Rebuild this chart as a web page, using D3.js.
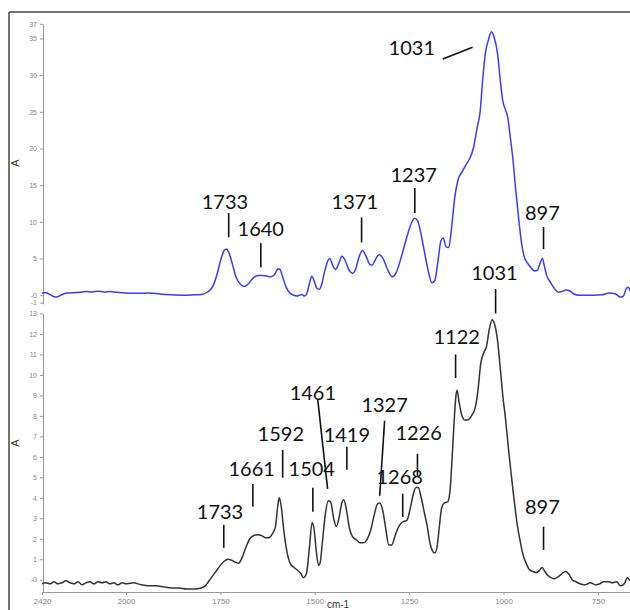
<!DOCTYPE html>
<html>
<head>
<meta charset="utf-8">
<script src="https://cdn.jsdelivr.net/npm/d3@7"></script>
<style>
  body { margin: 0; background: #fff; }
  svg { display: block; }
  .tick text { fill: #888; font-family: "Liberation Sans", Arial, sans-serif; }
  .note { font-family: Lato, "Open Sans", sans-serif; font-size: 20px; fill: #111; }
</style>
</head>
<body>
<svg id="chart" width="630" height="610"></svg>
<script>
// wavenumber (cm-1) and absorbance
const wnTop = [2420,2400,2380,2360,2345,2330,2310,2290,2260,2230,2200,2170,2140,2110,2080,2050,2020,2000,1970,1940,1910,1880,1850,1820,1800,1785,1770,1758,1748,1740,1734,1726,1718,1708,1697,1686,1675,1662,1650,1638,1625,1617,1607,1597,1592,1584,1575,1566,1556,1548,1540,1534,1528,1522,1514,1508,1502,1495,1489,1482,1474,1466,1460,1452,1445,1436,1428,1420,1410,1400,1392,1384,1374,1364,1354,1348,1340,1330,1320,1308,1295,1285,1272,1258,1245,1236,1228,1218,1208,1198,1190,1182,1174,1166,1160,1152,1145,1138,1130,1120,1110,1098,1090,1080,1070,1062,1055,1048,1040,1032,1024,1016,1008,1002,995,989,982,975,968,960,952,945,937,928,918,910,903,897,892,885,875,865,855,845,835,825,815,800,780,760,740,720,705,690,682,675,670,665];
const absTop = [0.3,0.35,0.1,-0.2,-0.25,-0.05,0.2,0.3,0.35,0.4,0.5,0.45,0.55,0.45,0.5,0.4,0.35,0.3,0.25,0.3,0.15,0.05,0.0,0.05,0.1,0.4,1.2,3.0,5.0,6.1,6.3,5.6,4.2,2.4,1.5,1.2,1.6,2.4,2.7,2.7,2.6,2.5,2.8,3.6,3.5,2.3,1.0,0.3,0.0,-0.1,0.0,0.1,-0.1,0.1,1.6,2.6,2.0,1.0,0.8,1.4,3.2,4.6,5.0,4.0,3.5,4.4,5.3,4.8,3.5,3.0,3.5,5.0,6.1,5.3,4.2,4.1,4.8,5.5,5.1,3.6,2.5,3.0,5.0,7.6,9.7,10.5,10.2,8.2,5.5,3.0,1.7,2.0,4.5,7.4,7.8,6.6,6.5,9.0,13.0,15.8,16.8,17.9,18.6,20.0,22.8,25.0,29.5,33.0,34.8,35.9,35.0,33.0,29.0,26.5,25.3,24.3,21.5,18.5,14.5,10.5,7.0,5.2,4.4,3.8,3.3,3.4,4.4,5.0,4.0,2.6,1.7,0.9,0.4,0.5,0.7,0.6,0.2,0.0,0.0,0.0,0.05,0.3,0.2,-0.25,-0.1,0.9,1.1,0.6];

const wnBot = [2420,2400,2380,2360,2340,2320,2300,2280,2260,2240,2220,2200,2180,2160,2140,2120,2100,2080,2060,2040,2020,2000,1980,1960,1940,1920,1900,1880,1860,1840,1820,1800,1790,1780,1770,1760,1750,1740,1730,1720,1710,1702,1692,1682,1672,1662,1651,1640,1630,1622,1612,1604,1598,1594,1589,1582,1574,1565,1555,1545,1537,1530,1522,1514,1507,1502,1496,1490,1486,1480,1472,1464,1458,1450,1443,1436,1429,1423,1416,1408,1400,1390,1380,1372,1362,1352,1342,1334,1328,1320,1312,1304,1296,1288,1280,1272,1264,1256,1248,1240,1232,1226,1218,1210,1202,1195,1188,1182,1176,1170,1164,1157,1148,1142,1136,1130,1126,1123,1118,1110,1102,1095,1085,1075,1068,1060,1052,1045,1038,1030,1024,1016,1008,1002,995,988,980,972,963,955,948,940,932,922,913,905,898,892,885,875,865,855,845,835,828,818,808,798,785,770,755,745,735,722,712,700,690,680,672,665];
const absBot = [-0.2,-0.15,-0.2,-0.1,-0.2,-0.15,-0.05,-0.15,-0.2,-0.1,-0.25,-0.15,-0.1,-0.2,-0.1,-0.15,-0.1,-0.2,-0.15,-0.25,-0.15,-0.2,-0.15,-0.25,-0.3,-0.3,-0.35,-0.4,-0.4,-0.45,-0.45,-0.4,-0.3,-0.05,0.2,0.45,0.7,0.9,1.0,0.95,0.85,0.8,1.1,1.6,2.0,2.15,2.2,2.15,2.05,2.05,2.25,2.6,3.6,4.0,3.6,2.4,1.4,0.8,0.6,0.45,0.3,0.1,0.3,1.6,2.8,2.5,1.4,0.7,0.8,1.8,3.2,3.85,3.8,3.0,2.6,3.0,3.7,3.9,3.4,2.5,2.1,1.95,1.8,1.8,1.95,2.4,3.2,3.7,3.75,3.4,2.5,1.7,1.7,2.1,2.5,2.75,2.85,2.9,3.4,4.1,4.5,4.5,4.0,3.3,2.6,1.8,1.4,1.3,1.6,2.6,3.5,3.75,3.8,4.3,6.0,8.0,9.0,9.25,8.7,8.0,7.8,7.8,8.0,8.4,9.2,10.6,11.1,11.4,12.2,12.7,12.5,11.7,10.2,9.0,7.9,6.6,5.2,3.9,2.6,1.8,1.2,0.8,0.5,0.4,0.35,0.45,0.6,0.45,0.25,0.1,0.05,0.15,0.3,0.4,0.3,0.0,-0.1,-0.2,-0.25,-0.15,-0.25,-0.2,-0.1,-0.1,-0.15,-0.1,-0.3,-0.2,0.1,-0.05];

const xTicks = [2420, 2000, 1750, 1500, 1250, 1000, 750];
const yTicksTop = [-1, 0, 5, 10, 15, 20, 25, 30, 35, 37];
const yTicksBot = [0, 1, 2, 3, 4, 5, 6, 7, 8, 9, 10, 11, 12, 13];

// peak labels: text position and the marker line, in (cm-1, A)
const notesTop = [
  { t: "1733", tx: 1738, ty: 12.8, x1: 1728, y1: 11.2, x2: 1728, y2: 7.9 },
  { t: "1640", tx: 1643, ty: 9.1, x1: 1643, y1: 7.1, x2: 1643, y2: 3.8 },
  { t: "1371", tx: 1394, ty: 12.8, x1: 1376, y1: 10.6, x2: 1376, y2: 7.2 },
  { t: "1237", tx: 1238, ty: 16.4, x1: 1235, y1: 14.6, x2: 1235, y2: 11.2 },
  { t: "1031", tx: 1243, ty: 33.7, x1: 1161, y1: 32.2, x2: 1082, y2: 33.8 },
  { t: "897", tx: 897, ty: 11.3, x1: 894, y1: 9.3, x2: 894, y2: 6.3 }
];
const notesBot = [
  { t: "1031", tx: 1024, ty: 15.0, x1: 1021, y1: 14.2, x2: 1021, y2: 13.0 },
  { t: "1122", tx: 1124, ty: 11.85, x1: 1127, y1: 11.0, x2: 1127, y2: 9.85 },
  { t: "897", tx: 897, ty: 3.56, x1: 894, y1: 2.59, x2: 894, y2: 1.46 },
  { t: "1226", tx: 1225, ty: 7.17, x1: 1228, y1: 6.15, x2: 1228, y2: 5.02 },
  { t: "1268", tx: 1275, ty: 5.02, x1: 1267, y1: 4.2, x2: 1267, y2: 3.07 },
  { t: "1327", tx: 1315, ty: 8.54, x1: 1315, y1: 7.76, x2: 1328, y2: 4.1 },
  { t: "1419", tx: 1415, ty: 7.07, x1: 1415, y1: 6.49, x2: 1415, y2: 5.37 },
  { t: "1461", tx: 1505, ty: 9.12, x1: 1492, y1: 8.78, x2: 1466, y2: 4.44 },
  { t: "1504", tx: 1508, ty: 5.41, x1: 1505, y1: 4.49, x2: 1505, y2: 3.32 },
  { t: "1592", tx: 1590, ty: 7.12, x1: 1585, y1: 6.34, x2: 1585, y2: 4.98 },
  { t: "1661", tx: 1667, ty: 5.41, x1: 1664, y1: 4.68, x2: 1664, y2: 3.56 },
  { t: "1733", tx: 1751, ty: 3.32, x1: 1741, y1: 2.68, x2: 1741, y2: 1.56 }
];

const svg = d3.select("#chart");

// the wavenumber axis is compressed above 2000 cm-1
const x = d3.scaleLinear().domain([2420, 2000, 665]).range([42, 126, 630]);
const yTop = d3.scaleLinear().domain([-1.2, 37]).range([304, 23.8]);
const yBot = d3.scaleLinear().domain([-0.6, 13]).range([592, 313.5]);

// outer frame
svg.append("line").attr("x1", 9).attr("x2", 630).attr("y1", 12).attr("y2", 12)
  .attr("stroke", "#444").attr("stroke-width", 1.5);
svg.append("line").attr("x1", 9).attr("x2", 9).attr("y1", 12).attr("y2", 610)
  .attr("stroke", "#444").attr("stroke-width", 1.5);

function styleAxis(g, size) {
  g.selectAll("path, line").attr("stroke", "#999");
  g.selectAll("text").style("font-size", size + "px");
}

svg.append("g").attr("transform", "translate(43,0)")
  .call(d3.axisLeft(yTop).tickValues(yTicksTop).tickSize(3).tickSizeOuter(0)
    .tickFormat(d => d === 0 ? "-0" : d))
  .call(g => styleAxis(g, 7));
svg.append("g").attr("transform", "translate(43,0)")
  .call(d3.axisLeft(yBot).tickValues(yTicksBot).tickSize(3).tickSizeOuter(0)
    .tickFormat(d => d === 0 ? "-0" : d))
  .call(g => styleAxis(g, 7));
svg.append("g").attr("transform", "translate(0,592)")
  .call(d3.axisBottom(x).tickValues(xTicks).tickSize(3).tickSizeOuter(0)
    .tickFormat(d3.format("d")))
  .call(g => styleAxis(g, 8));

svg.append("text").attr("x", 338).attr("y", 608).attr("text-anchor", "middle")
  .style("font-family", "Liberation Sans, Arial, sans-serif").style("font-size", "10px")
  .attr("fill", "#333").text("cm-1");

[[163, "A"], [443, "A"]].forEach(([cy, t]) => {
  svg.append("text").attr("transform", `translate(19,${cy}) rotate(-90)`)
    .attr("text-anchor", "middle")
    .style("font-family", "Liberation Sans, Arial, sans-serif").style("font-size", "11px")
    .attr("fill", "#333").text(t);
});

function drawSpectrum(wn, ab, y, color) {
  const line = d3.line().x(d => x(d[0])).y(d => y(d[1])).curve(d3.curveMonotoneX);
  svg.append("path").datum(d3.zip(wn, ab))
    .attr("fill", "none").attr("stroke", color).attr("stroke-width", 1.5)
    .attr("stroke-linejoin", "round").attr("d", line);
}
drawSpectrum(wnTop, absTop, yTop, "#3b3bf0");
drawSpectrum(wnBot, absBot, yBot, "#333");

function drawNotes(notes, y) {
  const g = svg.append("g");
  g.selectAll("line").data(notes).join("line")
    .attr("x1", d => x(d.x1)).attr("y1", d => y(d.y1))
    .attr("x2", d => x(d.x2)).attr("y2", d => y(d.y2))
    .attr("stroke", "#111").attr("stroke-width", 1.6);
  g.selectAll("text").data(notes).join("text")
    .attr("class", "note")
    .attr("x", d => x(d.tx)).attr("y", d => y(d.ty))
    .attr("text-anchor", "middle").attr("dy", "0.36em")
    .text(d => d.t);
}
drawNotes(notesTop, yTop);
drawNotes(notesBot, yBot);
</script>
</body>
</html>
